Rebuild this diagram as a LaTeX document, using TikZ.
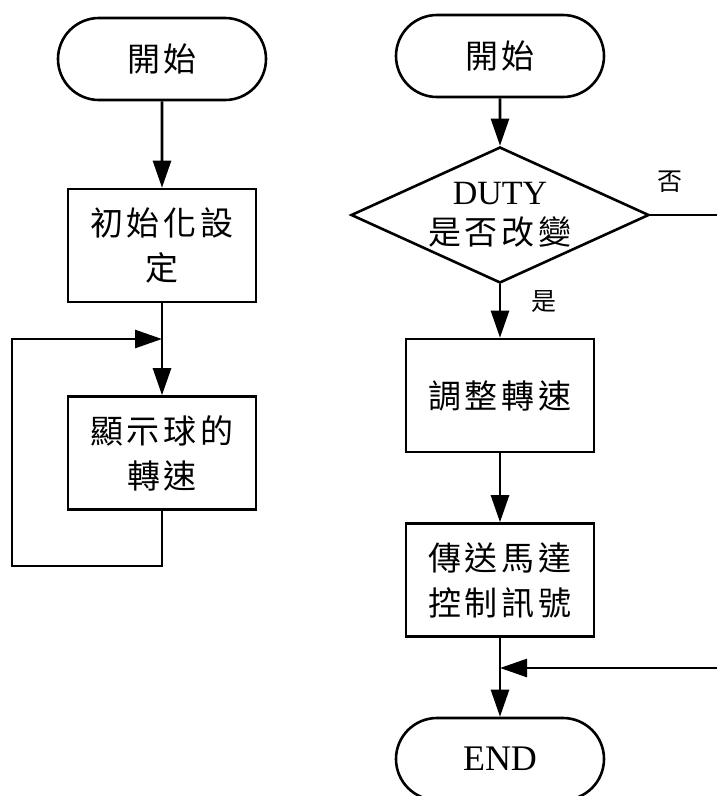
\documentclass[tikz,border=0pt]{standalone}
\usepackage{fontspec}
\setmainfont{Liberation Serif}
\newfontfamily\cjk[LetterSpace=12]{Noto Sans CJK TC}
\usetikzlibrary{shapes.geometric,shapes.misc,arrows.meta}
\begin{document}
\begin{tikzpicture}[x=1pt,y=-1pt,
  line width=2.6pt,
  >={Triangle[length=27pt,width=18pt]},
  term/.style={draw, rounded rectangle, minimum width=208pt, minimum height=82pt, inner sep=0pt,
    font=\cjk\fontsize{33pt}{40pt}\selectfont},
  proc/.style={draw, rectangle, minimum width=188pt, minimum height=113pt, inner sep=0pt, align=center,
    font=\cjk\fontsize{33pt}{45pt}\selectfont},
  dec/.style={draw, diamond, minimum width=298pt, minimum height=136pt, inner sep=0pt},
  lbl/.style={font=\cjk\fontsize{25pt}{28pt}\selectfont, inner sep=0pt}
]
\clip (0,0) rectangle (717,796);
% left column
\node[term] (L0) at (162,59) {開始};
\node[proc] (L1) at (162,245.5) {初始化設\\定};
\node[proc] (L2) at (162,453) {顯示球的\\轉速};
\draw[->] (L0) -- (L1);
\draw[->] (L1) -- (L2);
\coordinate (lb) at (162,566);
\coordinate (ll) at (12,566);
\coordinate (lt) at (12,339);
\coordinate (lj) at (162,339);
\draw[->] (L2.south) -- (lb) -- (ll) -- (lt) -- (lj);
% right column
\node[term] (R0) at (500,56) {開始};
\node[dec] (D) at (500,215) {};
\node[align=center, inner sep=0pt, font=\fontsize{34pt}{40pt}\selectfont] (Dt) at (D.center) {DUTY\\{\cjk\fontsize{33pt}{40pt}\selectfont 是否改變}};
\node[proc] (R1) at (500,395.5) {調整轉速};
\node[proc] (R2) at (500,580) {傳送馬達\\控制訊號};
\node[term, font=\fontsize{36pt}{40pt}\selectfont] (E) at (500,759) {END};
\draw[->] (R0) -- (D);
\draw[->] (D) -- (R1);
\draw[->] (R1) -- (R2);
\draw[->] (R2) -- (E);
\coordinate (rj) at (500,668);
\coordinate (nr) at (720,215);
\coordinate (nr2) at (720,668);
\draw (D.east) -- (nr);
\draw[->] (nr2) -- (rj);
\node[lbl] (no) at (670,182) {否};
\node[lbl] (yes) at (544,302) {是};
\end{tikzpicture}
\end{document}
